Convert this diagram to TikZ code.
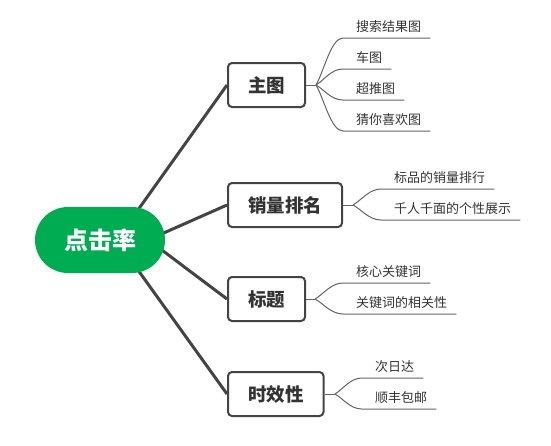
\documentclass[tikz,border=0pt]{standalone}
\usepackage{fontspec}
\setmainfont{Noto Sans CJK SC}
\usetikzlibrary{calc,backgrounds}
\definecolor{mgreen}{RGB}{0,172,82}
\definecolor{mline}{RGB}{68,68,68}
\definecolor{lline}{RGB}{100,100,100}
\definecolor{txt}{RGB}{51,51,51}
\tikzset{
  centre/.style={fill=mgreen, rounded corners=33pt, minimum width=130pt, minimum height=66pt,
    text=white, font=\fontsize{24}{24}\selectfont\bfseries, inner sep=0pt},
  topic/.style={draw=mline, line width=2pt, fill=white, rounded corners=4pt, anchor=west,
    minimum height=44pt, inner xsep=20pt, inner ysep=0pt, text=txt,
    font=\fontsize{18.5}{18.5}\selectfont\bfseries},
  leaf/.style={anchor=base west, inner sep=0pt, text=txt, font=\fontsize{13}{13}\selectfont},
  mainline/.style={draw=mline, line width=3pt},
  leafline/.style={draw=lline, line width=1pt},
}
\newcommand\lf[2]{%
  \coordinate (e) at ($(#2.base west)+(-13,7)$);
  \draw[leafline] (#1) .. controls ($(#1)!0.3!(e)$) and ($(e)+(-12,0)$) .. (e) -- ($(#2.base east)+(9,7)$);}
\begin{document}
\begin{tikzpicture}[x=1pt,y=-1pt]
\useasboundingbox (0,0) rectangle (551,445);
% topics
\node[topic] (t1) at (227,85) {主图};
\node[topic] (t2) at (227,205) {销量排名};
\node[topic] (t3) at (227,299) {标题};
\node[topic] (t4) at (227,394) {时效性};
% centre
\node[centre] (c) at (100,240) {点击率};
% start points of main connectors (under the centre node)
\coordinate (s1) at (136.5,212);
\coordinate (s2) at (160.5,234.4);
\coordinate (s3) at (161,249.4);
\coordinate (s4) at (136.5,268);
\begin{scope}[on background layer]
\fill[white] (0,0) rectangle (551,445);
\draw[mainline] (s1) -- (t1.west);
\draw[mainline] (s2) -- (t2.west);
\draw[mainline] (s3) -- (t3.west);
\draw[mainline] (s4) -- (t4.west);
\end{scope}
% forks
\coordinate (f1) at (316,85);
\coordinate (f2) at (353,205);
\coordinate (f3) at (315,299);
\coordinate (f4) at (335,394);
\draw[leafline] (t1.east) -- (f1);
\draw[leafline] (t2.east) -- (f2);
\draw[leafline] (t3.east) -- (f3);
\draw[leafline] (t4.east) -- (f4);
% leaves
\node[leaf] (a1) at (356,31) {搜索结果图};
\node[leaf] (a2) at (356,62) {车图};
\node[leaf] (a3) at (356,93) {超推图};
\node[leaf] (a4) at (356,124) {猜你喜欢图};
\node[leaf] (b1) at (394,182) {标品的销量排行};
\node[leaf] (b2) at (394,213) {千人千面的个性展示};
\node[leaf] (c1) at (356,276) {核心关键词};
\node[leaf] (c2) at (356,307) {关键词的相关性};
\node[leaf] (d1) at (375,371) {次日达};
\node[leaf] (d2) at (375,402) {顺丰包邮};
\lf{f1}{a1}\lf{f1}{a2}\lf{f1}{a3}\lf{f1}{a4}
\lf{f2}{b1}\lf{f2}{b2}
\lf{f3}{c1}\lf{f3}{c2}
\lf{f4}{d1}\lf{f4}{d2}
\end{tikzpicture}
\end{document}
